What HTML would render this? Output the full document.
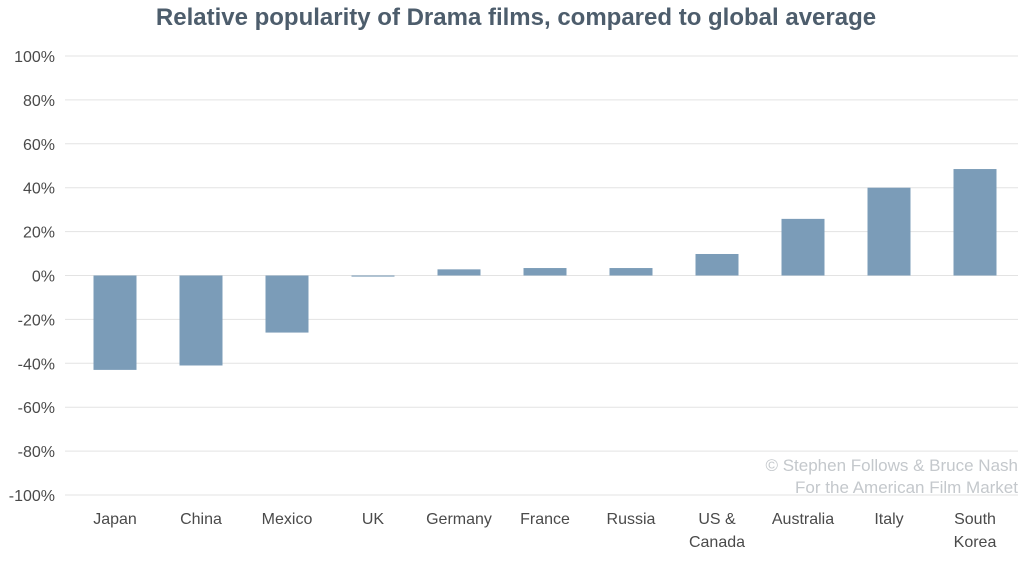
<!DOCTYPE html>
<html><head><meta charset="utf-8"><style>
body{margin:0;background:#fff;width:1024px;height:559px;overflow:hidden;font-family:"Liberation Sans",sans-serif}
</style></head><body>
<svg id="chart" width="1024" height="559" xmlns="http://www.w3.org/2000/svg">
<text x="516" y="25" text-anchor="middle" font-size="24" font-weight="bold" fill="#4d5d6c" font-family="Liberation Sans, sans-serif">Relative popularity of Drama films, compared to global average</text>
<g id="grid"></g><g id="bars"></g><g id="xlabels"></g>
<text x="1018" y="471" text-anchor="end" font-size="17" fill="#c4c8cc">© Stephen Follows &amp; Bruce Nash</text>
<text x="1018" y="493" text-anchor="end" font-size="17" fill="#c4c8cc">For the American Film Market</text>
</svg>
<script>
const categories=[["Japan"],["China"],["Mexico"],["UK"],["Germany"],["France"],["Russia"],["US &","Canada"],["Australia"],["Italy"],["South","Korea"]];
const values=[-43,-41,-26,-0.5,2.8,3.4,3.4,9.8,25.8,40,48.5];
const ticks=[100,80,60,40,20,0,-20,-40,-60,-80,-100];
const NS="http://www.w3.org/2000/svg";
const plotLeft=72,plotRight=1018,plotTop=56,plotBottom=495;
const yScale=v=>plotTop+(100-v)/200*(plotBottom-plotTop);
const step=(plotRight-plotLeft)/categories.length;
const xc=i=>plotLeft+step*(i+0.5);
function mk(t,a,p){const e=document.createElementNS(NS,t);for(const k in a)e.setAttribute(k,a[k]);p.appendChild(e);return e;}
const g=document.getElementById('grid');
ticks.forEach(t=>{
 const l=mk('line',{x1:65,x2:plotRight,y1:yScale(t),y2:yScale(t),stroke:'#e3e3e3','stroke-width':1},g);
 
 
 const tx=mk('text',{x:55,y:yScale(t)+6,'text-anchor':'end','font-size':16,fill:'#4a4a4a'},g);
 tx.textContent=t+'%';
 
 
});
const b=document.getElementById('bars');
const xl=document.getElementById('xlabels');
values.forEach((v,i)=>{
 const y0=yScale(0),y1=yScale(v);
 const r=mk('rect',{x:xc(i)-21.5,width:43,y:Math.min(y0,y1),height:Math.max(1,Math.abs(y1-y0)),fill:'#7b9cb8'},b);
 
 
 categories[i].forEach((s,j)=>{
  const t=mk('text',{x:xc(i),y:524+j*23,'text-anchor':'middle','font-size':16,fill:'#4a4a4a'},xl);
  t.textContent=s;
  
  
 });
});
</script>
</body></html>
